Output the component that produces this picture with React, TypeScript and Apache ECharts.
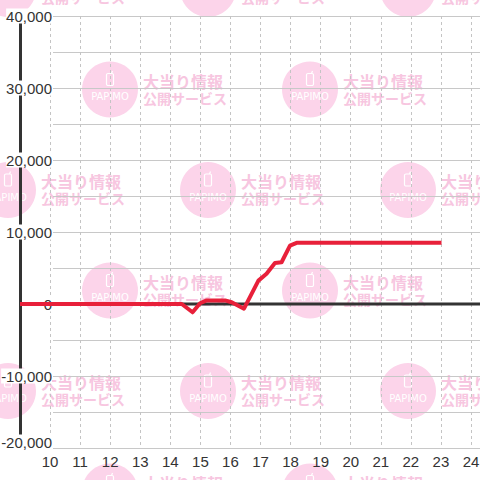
import React, { useEffect, useRef } from "react";
import * as echarts from "echarts";

// Data
const hours = [9, 14.38, 14.74, 14.99, 15.21, 15.82, 16.04, 16.45, 16.93, 17.2, 17.48, 17.7, 17.98, 18.2, 23.02];
const balance = [0, 0, -1150, 100, 500, 500, 250, -650, 3250, 4200, 5700, 5800, 8100, 8500, 8500];
const baselineX = [9, 24.3];
const baselineY = [0, 0];

const X_MIN = 9;
const X_MAX = 24.3;
const Y_MIN = -20000;
const Y_MAX = 40000;
const Y_STEP = 5000;

const wmLine1 = "大当り情報";
const wmLine2 = "公開サービス";
const wmBrand = "PAPIMO";

function watermark(cx: number, cy: number) {
  const z = -5;
  return {
    type: "group",
    x: cx,
    y: cy,
    silent: true,
    children: [
      { type: "circle", z, shape: { cx: 0, cy: 0, r: 28 }, style: { fill: "#fcd4ea" } },
      { type: "rect", z, shape: { x: -3.5, y: -16, width: 7, height: 12, r: 1.5 }, style: { fill: "none", stroke: "#ffffff", lineWidth: 1.2 } },
      { type: "line", z, shape: { x1: 1.5, y1: -16, x2: 2.5, y2: -18.5 }, style: { stroke: "#ffffff", lineWidth: 1.2 } },
      { type: "text", z, x: 0, y: 7, style: { text: wmBrand, fill: "#ffffff", font: '10px "DejaVu Sans"', align: "center", verticalAlign: "middle" } },
      { type: "text", z, x: 33, y: -9, style: { text: wmLine1, fill: "#f7c6e0", font: 'bold 16px "Noto Sans CJK JP"', verticalAlign: "middle" } },
      { type: "text", z, x: 33, y: 8, style: { text: wmLine2, fill: "#f7c6e0", font: 'bold 14px "Noto Sans CJK JP"', verticalAlign: "middle" } },
    ],
  };
}

export default function App() {
  const ref = useRef<HTMLDivElement>(null);
  useEffect(() => {
    if (!ref.current) return;
    const chart = echarts.init(ref.current, null, { renderer: "svg" });

    const wms: any[] = [];
    for (let r = 0; r <= 5; r++) {
      const y = -11 + 100.5 * r;
      const xs = r % 2 === 0 ? [8, 208, 408] : [110, 310];
      xs.forEach((x) => wms.push(watermark(x, y)));
    }

    const fontFamily = '"Liberation Sans", Arial, sans-serif';

    chart.setOption({
      animation: false,
      backgroundColor: "#ffffff",
      graphic: { elements: wms },
      grid: [
        { left: 20, top: 16, right: 0, bottom: 32, containLabel: false, outerBoundsMode: "none" },
        { left: 53, top: 16, right: 0, bottom: 32, containLabel: false, outerBoundsMode: "none" },
      ],
      xAxis: [
        {
          type: "value",
          gridIndex: 0,
          min: X_MIN,
          max: X_MAX,
          interval: 1,
          axisLine: { show: false },
          axisTick: { show: false },
          axisLabel: {
            margin: 6,
            color: "#333",
            fontSize: 15,
            fontFamily,
            formatter: (v: number) => (v === X_MIN || !Number.isInteger(v) ? "" : String(v)),
          },
          splitLine: { show: true, lineStyle: { color: "#c4c4c4", type: [3, 3], width: 1 } },
        },
        {
          type: "value",
          gridIndex: 1,
          min: 0,
          max: 1,
          show: false,
        },
      ],
      yAxis: [
        {
          type: "value",
          gridIndex: 0,
          min: Y_MIN,
          max: Y_MAX,
          interval: Y_STEP,
          axisLine: { show: true, onZero: false, lineStyle: { color: "#333", width: 3 } },
          axisTick: { show: false },
          splitLine: { show: false },
          axisLabel: {
            inside: true,
            align: "right",
            margin: 32,
            color: "#333",
            fontSize: 15,
            fontFamily,
            backgroundColor: "#ffffff",
            formatter: (v: number) => {
              if (v % 10000 !== 0) return "";
              const s = v.toLocaleString("en-US");
              return v === Y_MIN ? `{b|${s}}` : s;
            },
            rich: {
              b: { padding: [0, 0, 12, 0], color: "#333", fontSize: 15, fontFamily },
            },
          },
        },
        {
          type: "value",
          gridIndex: 1,
          min: Y_MIN,
          max: Y_MAX,
          interval: Y_STEP,
          axisLine: { show: false },
          axisTick: { show: false },
          axisLabel: { show: false },
          splitLine: { show: true, lineStyle: { color: "#c8c8c8", width: 1 } },
        },
      ],
      series: [
        {
          type: "line",
          xAxisIndex: 0,
          yAxisIndex: 0,
          z: 1,
          symbol: "none",
          silent: true,
          data: baselineX.map((x, i) => [x, baselineY[i]]),
          lineStyle: { color: "#333", width: 3 },
        },
        {
          type: "line",
          xAxisIndex: 0,
          yAxisIndex: 0,
          z: 3,
          symbol: "none",
          data: hours.map((h, i) => [h, balance[i]]),
          lineStyle: { color: "#e8203a", width: 4, join: "round" },
        },
      ],
    });
    return () => chart.dispose();
  }, []);
  return <div ref={ref} style={{ position: "fixed", left: 0, top: 0, width: 480, height: 480 }} />;
}
